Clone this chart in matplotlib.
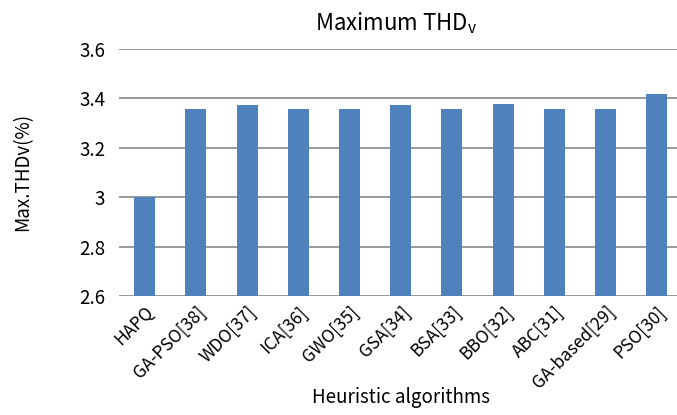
import matplotlib
matplotlib.use("Agg")
import matplotlib.pyplot as plt

categories = ["HAPQ", "GA-PSO[38]", "WDO[37]", "ICA[36]", "GWO[35]", "GSA[34]",
              "BSA[33]", "BBO[32]", "ABC[31]", "GA-based[29]", "PSO[30]"]
values = [3.0, 3.357, 3.374, 3.357, 3.357, 3.374, 3.357, 3.377, 3.357, 3.357, 3.417]
yticks = [2.6, 2.8, 3.0, 3.2, 3.4, 3.6]
ytick_labels = ["2.6", "2.8", "3", "3.2", "3.4", "3.6"]

plt.rcParams['font.family'] = ['Noto Sans CJK KR', 'DejaVu Sans']

fig = plt.figure(figsize=(6.77, 4.15), dpi=100)
ax = fig.add_axes([0.176, 0.287, 0.832, 0.595])
x = range(len(categories))
ax.bar(x, values, width=0.41, color="#4F81BD", zorder=3)
ax.set_ylim(2.6, 3.6)
ax.set_xlim(-0.5, len(categories) - 0.5)
ax.set_yticks(yticks)
ax.set_yticklabels(ytick_labels, fontsize=13.5)
ax.set_xticks(list(x))
ax.set_xticklabels(categories, rotation=45, ha="right", rotation_mode="anchor", fontsize=12.5)
ax.tick_params(axis='y', length=0, pad=10)
ax.tick_params(axis='x', length=0, pad=5)
ax.grid(axis='y', color="#878787", linewidth=1.2, zorder=0)
for s in ax.spines.values():
    s.set_visible(False)
ax.set_ylabel("Max.THDv(%)", fontsize=13.5, labelpad=33)
ax.set_xlabel("Heuristic algorithms", fontsize=13.5, labelpad=-4)
fig.text(0.585, 0.945, "Maximum THD$_\\mathregular{v}$", ha="center", va="center", fontsize=16)
fig.savefig("out.png", dpi=100)
